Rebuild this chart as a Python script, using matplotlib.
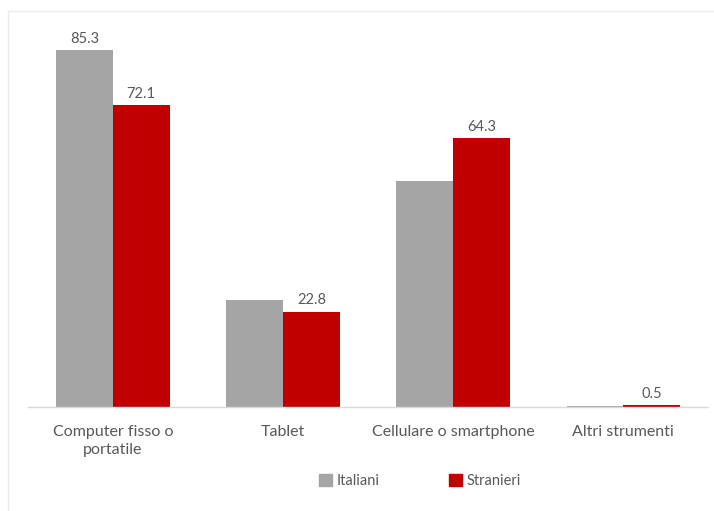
import numpy as np
import matplotlib.pyplot as plt
from matplotlib.patches import Patch
from matplotlib.lines import Line2D

plt.rcParams['font.family'] = ['Lato', 'DejaVu Sans']

categorie = ['Computer fisso o\nportatile', 'Tablet', 'Cellulare o smartphone', 'Altri strumenti']
italiani = [85.3, 25.6, 53.9, 0.3]
stranieri = [72.1, 22.8, 64.3, 0.5]
# only these bars carry a value label
etichette_ita = [True, False, False, False]
etichette_str = [True, True, True, True]

grigio = '#A5A5A5'
rosso = '#C00000'
testo = '#595959'

fig = plt.figure(figsize=(7.14, 5.11), dpi=100)
ax = fig.add_axes([0.039, 0.2035, 0.953, 0.737])

x = np.arange(len(categorie))
w = 0.333
b1 = ax.bar(x - w / 2, italiani, w, color=grigio, label='Italiani')
b2 = ax.bar(x + w / 2, stranieri, w, color=rosso, label='Stranieri')

for rect, v, show in zip(b1, italiani, etichette_ita):
    if show:
        ax.text(rect.get_x() + rect.get_width() / 2, v + 1.0, f'{v:.1f}',
                ha='center', va='bottom', fontsize=10.5, color=testo)
for rect, v, show in zip(b2, stranieri, etichette_str):
    if show:
        ax.text(rect.get_x() + rect.get_width() / 2, v + 1.0, f'{v:.1f}',
                ha='center', va='bottom', fontsize=10.5, color=testo)

ax.set_xlim(-0.5, len(categorie) - 0.5)
ax.set_ylim(0, 90)
ax.set_yticks([])
ax.set_xticks([])

# category names: each line centred on its own under the group
for xi, nome in zip(x, categorie):
    for k, riga in enumerate(nome.split('\n')):
        ax.annotate(riga, xy=(xi, 0), xytext=(0, -25 - 18 * k),
                    textcoords='offset pixels', ha='center', va='center',
                    fontsize=11.5, color=testo, annotation_clip=False)

for s in ['top', 'right', 'left']:
    ax.spines[s].set_visible(False)
ax.spines['bottom'].set_color('#D9D9D9')
ax.spines['bottom'].set_linewidth(1.0)

handles = [Patch(color=grigio, label='Italiani'), Patch(color=rosso, label='Stranieri')]
leg = fig.legend(handles=handles, loc='center', bbox_to_anchor=(0.588, 0.059), ncol=2,
                 frameon=False, fontsize=10.5, handlelength=0.9, handleheight=0.9,
                 handletextpad=0.3, columnspacing=4.8)
for t in leg.get_texts():
    t.set_color(testo)

# faint chart frame
fig.add_artist(Line2D([0.011, 1.0], [1 - 11 / 511, 1 - 11 / 511], color='#EBEBEB', lw=1.0))
fig.add_artist(Line2D([0.011, 0.011], [0.0, 1 - 11 / 511], color='#EBEBEB', lw=1.0))

fig.savefig('out.png', dpi=100, facecolor='white')
